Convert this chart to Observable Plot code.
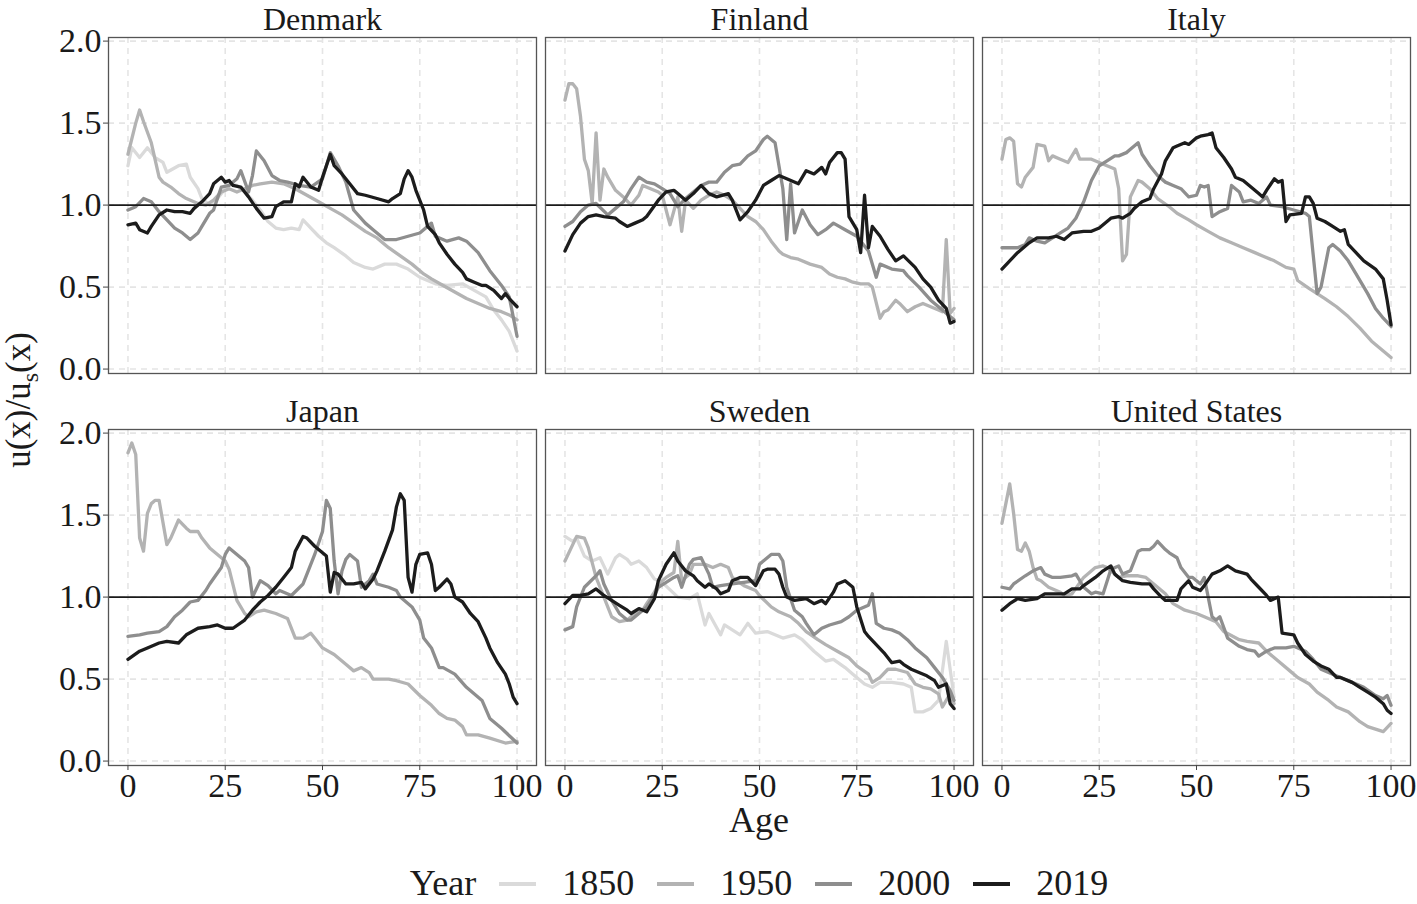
<!DOCTYPE html>
<html><head><meta charset="utf-8">
<script src="https://cdn.jsdelivr.net/npm/d3@7"></script>
<script src="https://cdn.jsdelivr.net/npm/@observablehq/plot@0.6"></script>
<style>
body{margin:0;background:#fff;}
#wrap{position:relative;width:1417px;height:904px;font-family:"Liberation Serif","Times New Roman",serif;color:#1a1a1a;background:#fff;overflow:hidden;}
#ylab{position:absolute;left:22px;top:400px;transform:translate(-50%,-50%) rotate(-90deg);font-size:35px;white-space:nowrap;line-height:1.1;}
#xlab{position:absolute;left:759px;top:821px;transform:translate(-50%,-50%);font-size:36px;line-height:1.1;}
#legend{position:absolute;left:107px;right:6px;top:864px;height:40px;display:flex;justify-content:center;align-items:center;font-size:36px;line-height:1.1;}
.sw{display:inline-block;width:37px;height:4px;margin:0 26px 0 23px;}
</style></head>
<body><div id="wrap"><div id="chart"></div><div id="ylab">u(x)/u<sub style="font-size:24px">s</sub>(x)</div><div id="xlab">Age</div><div id="legend"></div></div>
<script>
const countries = ["Denmark","Finland","Italy","Japan","Sweden","United States"];
const years = ["1850","1950","2000","2019"];
const yearColors = ["#dadada","#b3b3b3","#8e8e8e","#1c1c1c"];
const ageTicks = [0,25,50,75,100];
const ratioTicks = [0,0.5,1,1.5,2];

const DK_1850=[[0,1.24],[1,1.35],[3,1.29],[5,1.35],[7,1.29],[9,1.26],[10,1.20],[13,1.24],[15,1.25],[16,1.17],[18,1.10],[19,1.04],[21,1.00],[23,1.04],[25,1.10],[26,1.13],[28,1.12],[30,1.08],[32,1.03],[34,0.97],[36,0.90],[38,0.86],[40,0.85],[42,0.86],[44,0.85],[45,0.91],[47,0.86],[49,0.81],[51,0.77],[53,0.74],[56,0.69],[58,0.65],[61,0.62],[63,0.61],[66,0.64],[69,0.64],[72,0.61],[75,0.56],[79,0.52],[82,0.51],[86,0.52],[89,0.48],[92,0.44],[94,0.36],[96,0.30],[98,0.23],[100,0.11]];
const DK_1950=[[0,1.31],[2,1.50],[3,1.58],[4,1.51],[6,1.38],[8,1.17],[9,1.14],[11,1.11],[13,1.07],[15,1.04],[18,1.01],[20,1.00],[22,1.03],[24,1.08],[26,1.10],[28,1.08],[30,1.10],[32,1.12],[34,1.13],[37,1.14],[40,1.13],[43,1.10],[46,1.06],[49,1.02],[52,0.98],[55,0.94],[58,0.89],[61,0.84],[64,0.80],[67,0.74],[70,0.69],[73,0.64],[76,0.58],[78,0.55],[81,0.51],[84,0.47],[87,0.43],[90,0.40],[93,0.37],[96,0.35],[98,0.33],[100,0.30]];
const DK_2000=[[0,0.97],[2,0.99],[4,1.04],[6,1.02],[8,0.96],[10,0.91],[12,0.86],[14,0.83],[16,0.79],[18,0.83],[19,0.87],[21,0.95],[22,0.97],[24,1.11],[26,1.12],[28,1.16],[29,1.21],[31,1.08],[32,1.18],[33,1.33],[35,1.27],[37,1.18],[39,1.15],[41,1.14],[44,1.12],[47,1.11],[50,1.16],[52,1.32],[54,1.24],[56,1.14],[58,0.97],[61,0.89],[63,0.85],[66,0.79],[69,0.79],[72,0.81],[75,0.83],[78,0.89],[79,0.81],[82,0.78],[85,0.80],[87,0.78],[90,0.71],[93,0.60],[96,0.51],[98,0.44],[100,0.20]];
const DK_2019=[[0,0.88],[2,0.89],[3,0.85],[5,0.83],[6,0.87],[8,0.94],[10,0.97],[12,0.96],[14,0.96],[16,0.95],[17,0.98],[19,1.02],[21,1.07],[22,1.13],[24,1.17],[25,1.14],[26,1.15],[27,1.12],[29,1.11],[31,1.05],[33,0.98],[35,0.92],[37,0.93],[38,0.99],[40,1.02],[42,1.02],[43,1.13],[44,1.11],[45,1.17],[47,1.11],[49,1.09],[50,1.17],[52,1.31],[53,1.24],[55,1.19],[57,1.13],[59,1.07],[61,1.06],[64,1.04],[67,1.02],[68,1.04],[70,1.07],[71,1.16],[72,1.21],[73,1.17],[74,1.09],[76,0.97],[77,0.87],[79,0.82],[80,0.77],[82,0.70],[84,0.64],[86,0.59],[87,0.55],[89,0.53],[91,0.51],[92,0.51],[94,0.48],[96,0.43],[97,0.46],[98,0.43],[100,0.38]];

const FI_1950=[[0,1.64],[1,1.74],[2,1.74],[3,1.71],[4,1.54],[5,1.28],[6,1.21],[7,1.01],[8,1.44],[9,1.03],[10,1.22],[11,1.17],[13,1.09],[15,1.05],[17,1.00],[19,1.06],[20,1.12],[22,1.10],[24,1.08],[25,1.06],[27,0.88],[29,1.05],[30,0.84],[31,1.03],[33,0.98],[35,1.03],[37,1.06],[39,1.08],[41,1.06],[43,1.03],[45,0.98],[47,0.93],[49,0.90],[51,0.85],[53,0.78],[55,0.72],[56,0.70],[58,0.68],[60,0.67],[63,0.64],[66,0.62],[68,0.58],[70,0.56],[72,0.55],[74,0.53],[76,0.52],[78,0.52],[79,0.50],[81,0.31],[82,0.35],[83,0.36],[85,0.42],[86,0.40],[88,0.35],[90,0.38],[92,0.40],[94,0.38],[96,0.36],[97,0.35],[98,0.79],[99,0.34],[100,0.37]];
const FI_2000=[[0,0.87],[2,0.90],[4,0.96],[6,1.00],[8,1.01],[11,0.94],[13,0.98],[15,1.02],[17,1.10],[19,1.17],[21,1.14],[23,1.13],[25,1.10],[27,1.07],[29,0.99],[31,1.04],[33,1.08],[35,1.12],[37,1.14],[39,1.14],[41,1.20],[43,1.24],[45,1.25],[47,1.30],[49,1.33],[51,1.40],[52,1.42],[54,1.38],[56,1.10],[57,0.79],[58,1.13],[59,0.83],[61,0.97],[63,0.88],[65,0.82],[67,0.85],[69,0.89],[72,0.85],[75,0.81],[78,0.72],[80,0.56],[81,0.64],[84,0.61],[87,0.60],[88,0.57],[91,0.50],[94,0.42],[97,0.36],[100,0.30]];
const FI_2019=[[0,0.72],[2,0.82],[4,0.89],[6,0.93],[8,0.94],[10,0.93],[13,0.92],[14,0.90],[16,0.87],[18,0.89],[20,0.91],[21,0.93],[24,1.03],[26,1.08],[28,1.09],[29,1.07],[31,1.03],[33,1.07],[35,1.12],[37,1.07],[39,1.05],[42,1.07],[43,1.03],[45,0.91],[47,0.96],[49,1.03],[51,1.12],[53,1.15],[55,1.18],[57,1.16],[60,1.13],[62,1.21],[64,1.19],[66,1.23],[67,1.19],[68,1.26],[70,1.32],[71,1.32],[72,1.28],[73,0.93],[75,0.85],[76,0.71],[77,1.06],[78,0.74],[79,0.87],[81,0.81],[83,0.73],[85,0.66],[87,0.69],[90,0.62],[92,0.55],[94,0.50],[96,0.42],[98,0.37],[99,0.28],[100,0.29]];

const IT_1950=[[0,1.28],[1,1.40],[2,1.41],[3,1.39],[4,1.13],[5,1.11],[6,1.17],[8,1.23],[9,1.37],[11,1.36],[12,1.27],[13,1.30],[15,1.28],[17,1.26],[19,1.34],[20,1.28],[23,1.28],[25,1.26],[27,1.24],[29,1.22],[30,1.10],[31,0.66],[32,0.70],[33,1.05],[35,1.15],[36,1.14],[38,1.10],[40,1.04],[43,0.99],[45,0.95],[48,0.91],[50,0.88],[53,0.84],[56,0.80],[59,0.77],[62,0.74],[65,0.71],[67,0.69],[70,0.66],[73,0.62],[75,0.61],[76,0.54],[79,0.49],[81,0.46],[83,0.43],[86,0.38],[89,0.32],[92,0.25],[95,0.17],[98,0.11],[100,0.07]];
const IT_2000=[[0,0.74],[2,0.74],[4,0.74],[6,0.76],[7,0.80],[9,0.78],[11,0.77],[13,0.80],[15,0.83],[17,0.86],[19,0.92],[21,1.02],[23,1.15],[25,1.24],[27,1.27],[29,1.30],[30,1.30],[32,1.32],[33,1.34],[35,1.38],[36,1.31],[38,1.24],[40,1.18],[42,1.14],[44,1.12],[46,1.10],[48,1.05],[50,1.06],[51,1.12],[52,1.11],[53,1.12],[54,0.93],[56,0.96],[58,0.98],[59,1.12],[61,1.08],[62,1.02],[64,1.03],[66,1.01],[68,1.05],[69,1.00],[72,0.99],[75,0.97],[78,0.95],[79,0.93],[81,0.46],[82,0.50],[84,0.74],[85,0.76],[87,0.72],[89,0.66],[91,0.58],[94,0.46],[96,0.37],[98,0.31],[100,0.26]];
const IT_2019=[[0,0.61],[2,0.66],[4,0.71],[7,0.77],[9,0.80],[12,0.80],[14,0.81],[16,0.79],[18,0.83],[21,0.84],[23,0.84],[25,0.86],[27,0.90],[28,0.92],[30,0.93],[31,0.92],[33,0.95],[34,0.98],[36,1.02],[38,1.04],[39,1.10],[41,1.19],[42,1.27],[44,1.35],[45,1.36],[47,1.38],[48,1.37],[50,1.41],[51,1.42],[53,1.43],[54,1.44],[55,1.35],[57,1.29],[59,1.22],[60,1.17],[62,1.15],[64,1.11],[66,1.07],[67,1.05],[68,1.09],[70,1.16],[71,1.14],[72,1.15],[73,0.90],[74,0.94],[77,0.95],[78,1.05],[79,1.05],[80,1.01],[81,0.92],[83,0.90],[85,0.87],[87,0.84],[88,0.85],[89,0.76],[91,0.71],[93,0.66],[96,0.61],[98,0.55],[99,0.42],[100,0.27]];

const JP_1950=[[0,1.88],[1,1.94],[2,1.87],[3,1.36],[4,1.28],[5,1.51],[6,1.57],[7,1.59],[8,1.59],[10,1.32],[11,1.36],[13,1.47],[15,1.42],[16,1.40],[18,1.40],[19,1.36],[21,1.30],[23,1.26],[25,1.22],[26,1.17],[28,0.98],[30,0.90],[31,0.88],[33,0.91],[35,0.92],[38,0.90],[41,0.87],[43,0.75],[45,0.75],[47,0.78],[48,0.75],[50,0.69],[53,0.65],[56,0.59],[58,0.55],[60,0.57],[62,0.54],[63,0.50],[67,0.50],[69,0.49],[72,0.47],[75,0.40],[78,0.34],[80,0.29],[82,0.26],[84,0.25],[86,0.21],[87,0.16],[90,0.16],[93,0.14],[97,0.11],[100,0.12]];
const JP_2000=[[0,0.76],[3,0.77],[5,0.78],[8,0.79],[10,0.82],[12,0.88],[14,0.92],[16,0.97],[18,0.98],[20,1.04],[21,1.08],[24,1.18],[25,1.26],[26,1.30],[27,1.28],[30,1.22],[31,1.18],[32,1.00],[34,1.10],[36,1.07],[38,1.02],[39,1.04],[42,1.01],[45,1.08],[46,1.14],[48,1.26],[50,1.40],[51,1.59],[52,1.54],[53,1.22],[54,1.02],[55,1.16],[56,1.23],[57,1.26],[59,1.22],[60,1.06],[62,1.10],[63,1.14],[64,1.08],[67,1.06],[69,1.04],[70,1.00],[73,0.94],[75,0.86],[76,0.75],[78,0.69],[80,0.57],[81,0.57],[84,0.53],[87,0.45],[91,0.37],[93,0.26],[96,0.20],[100,0.11]];
const JP_2019=[[0,0.62],[3,0.67],[5,0.69],[8,0.72],[10,0.73],[13,0.72],[15,0.77],[18,0.81],[21,0.82],[23,0.83],[25,0.81],[27,0.81],[30,0.86],[32,0.92],[34,0.97],[36,1.01],[38,1.06],[40,1.12],[42,1.18],[43,1.28],[45,1.37],[46,1.36],[48,1.31],[50,1.27],[51,1.25],[52,1.03],[53,1.15],[54,1.14],[56,1.08],[58,1.08],[60,1.09],[61,1.05],[63,1.11],[64,1.16],[66,1.28],[68,1.41],[69,1.55],[70,1.63],[71,1.59],[72,1.12],[73,1.03],[74,1.20],[75,1.26],[77,1.27],[78,1.20],[79,1.04],[80,1.06],[82,1.11],[83,1.08],[84,1.00],[86,0.97],[88,0.90],[90,0.85],[92,0.75],[93,0.69],[95,0.60],[97,0.53],[98,0.47],[99,0.39],[100,0.35]];

const SE_1850=[[0,1.37],[2,1.34],[3,1.36],[5,1.25],[7,1.22],[9,1.24],[11,1.14],[13,1.24],[14,1.26],[16,1.23],[17,1.20],[19,1.22],[21,1.18],[23,1.11],[25,1.09],[29,1.00],[32,0.99],[34,1.02],[36,0.83],[37,0.90],[40,0.77],[41,0.83],[43,0.80],[45,0.77],[47,0.84],[49,0.78],[52,0.79],[54,0.77],[56,0.75],[59,0.77],[61,0.74],[64,0.67],[67,0.61],[69,0.62],[72,0.57],[74,0.53],[77,0.47],[79,0.45],[81,0.48],[84,0.48],[87,0.47],[89,0.45],[90,0.30],[92,0.30],[94,0.32],[96,0.37],[98,0.73],[100,0.39]];
const SE_1950=[[0,1.22],[2,1.32],[3,1.37],[5,1.36],[6,1.30],[8,1.12],[9,1.06],[11,0.94],[12,0.88],[14,0.85],[16,0.86],[18,0.90],[20,0.92],[21,0.96],[23,1.03],[24,1.08],[26,1.12],[28,1.15],[29,1.34],[30,1.10],[32,1.14],[33,1.20],[36,1.20],[38,1.18],[40,1.20],[42,1.18],[43,1.12],[46,1.07],[49,1.04],[50,1.01],[53,0.94],[55,0.91],[58,0.88],[60,0.84],[62,0.79],[65,0.74],[67,0.71],[70,0.67],[73,0.63],[75,0.58],[78,0.53],[79,0.48],[81,0.51],[83,0.56],[85,0.56],[88,0.54],[90,0.47],[92,0.45],[94,0.44],[96,0.41],[97,0.33],[99,0.41],[100,0.35]];
const SE_2000=[[0,0.80],[2,0.82],[3,0.94],[5,1.06],[8,1.13],[9,1.16],[10,1.08],[12,0.98],[14,0.90],[16,0.86],[17,0.86],[19,0.90],[21,0.94],[23,1.01],[24,1.06],[26,1.09],[28,1.12],[29,1.13],[30,1.06],[32,1.20],[33,1.23],[35,1.24],[37,1.14],[38,1.06],[40,1.07],[43,1.08],[46,1.09],[49,1.10],[50,1.20],[53,1.26],[55,1.26],[56,1.22],[57,1.06],[59,0.92],[61,0.88],[62,0.84],[64,0.77],[66,0.81],[68,0.83],[71,0.85],[73,0.88],[75,0.92],[78,0.95],[79,1.02],[80,0.84],[82,0.81],[84,0.80],[86,0.78],[88,0.74],[90,0.69],[93,0.63],[95,0.57],[97,0.51],[99,0.43],[100,0.37]];
const SE_2019=[[0,0.96],[2,1.01],[4,1.01],[6,1.02],[8,1.05],[10,1.01],[12,0.98],[14,0.95],[16,0.92],[17,0.90],[19,0.93],[21,0.91],[23,0.99],[24,1.10],[26,1.20],[28,1.27],[29,1.22],[31,1.16],[33,1.13],[34,1.10],[36,1.06],[37,1.08],[39,1.05],[40,1.02],[42,1.04],[43,1.10],[45,1.12],[47,1.12],[49,1.07],[51,1.16],[52,1.17],[54,1.17],[55,1.14],[56,1.06],[57,1.00],[59,0.98],[62,0.99],[64,0.96],[66,0.98],[67,0.96],[69,1.03],[70,1.08],[72,1.10],[74,1.06],[75,0.94],[77,0.79],[78,0.76],[80,0.71],[82,0.66],[84,0.60],[86,0.61],[87,0.59],[89,0.56],[91,0.54],[93,0.52],[95,0.49],[96,0.45],[98,0.47],[99,0.35],[100,0.32]];

const US_1950=[[0,1.45],[1,1.57],[2,1.69],[3,1.51],[4,1.29],[5,1.28],[6,1.33],[7,1.28],[8,1.18],[9,1.11],[10,1.10],[12,1.06],[15,1.03],[16,1.01],[18,1.02],[21,1.12],[24,1.18],[26,1.19],[27,1.18],[30,1.12],[32,1.13],[35,1.13],[37,1.12],[39,1.08],[42,1.02],[44,0.96],[47,0.92],[50,0.90],[52,0.88],[55,0.85],[57,0.79],[61,0.74],[63,0.73],[66,0.72],[68,0.67],[71,0.61],[74,0.55],[76,0.51],[79,0.47],[81,0.42],[84,0.37],[86,0.33],[89,0.30],[92,0.24],[94,0.21],[98,0.18],[100,0.23]];
const US_2000=[[0,1.06],[2,1.05],[3,1.08],[6,1.13],[8,1.16],[10,1.18],[11,1.14],[13,1.12],[15,1.12],[18,1.13],[19,1.14],[21,1.06],[23,1.02],[24,1.03],[26,1.02],[28,1.17],[30,1.19],[31,1.14],[33,1.16],[35,1.28],[36,1.29],[38,1.29],[39,1.31],[40,1.34],[42,1.29],[43,1.27],[45,1.24],[46,1.18],[48,1.12],[49,1.12],[51,1.08],[52,1.12],[54,0.88],[55,0.86],[56,0.88],[58,0.75],[61,0.70],[63,0.68],[65,0.67],[66,0.64],[68,0.67],[70,0.69],[73,0.69],[75,0.70],[78,0.67],[80,0.62],[82,0.56],[85,0.53],[87,0.51],[90,0.48],[93,0.45],[96,0.40],[98,0.38],[99,0.40],[100,0.34]];
const US_2019=[[0,0.92],[2,0.96],[4,0.99],[6,0.98],[9,0.99],[11,1.02],[14,1.02],[16,1.02],[18,1.05],[20,1.05],[21,1.07],[24,1.12],[26,1.16],[28,1.19],[29,1.14],[31,1.10],[33,1.09],[36,1.08],[38,1.08],[39,1.05],[41,1.00],[42,0.98],[45,0.98],[46,1.05],[48,1.10],[49,1.06],[51,1.04],[52,1.07],[54,1.14],[56,1.16],[58,1.19],[60,1.16],[63,1.14],[64,1.11],[66,1.06],[68,1.01],[69,0.98],[71,1.00],[72,0.78],[75,0.77],[76,0.72],[78,0.65],[80,0.61],[82,0.58],[84,0.56],[86,0.51],[87,0.51],[90,0.48],[92,0.45],[94,0.42],[96,0.39],[98,0.35],[99,0.31],[100,0.29]];

const seriesList = [
  ["Denmark","1850",DK_1850],["Denmark","1950",DK_1950],["Denmark","2000",DK_2000],["Denmark","2019",DK_2019],
  ["Finland","1950",FI_1950],["Finland","2000",FI_2000],["Finland","2019",FI_2019],
  ["Italy","1950",IT_1950],["Italy","2000",IT_2000],["Italy","2019",IT_2019],
  ["Japan","1950",JP_1950],["Japan","2000",JP_2000],["Japan","2019",JP_2019],
  ["Sweden","1850",SE_1850],["Sweden","1950",SE_1950],["Sweden","2000",SE_2000],["Sweden","2019",SE_2019],
  ["United States","1950",US_1950],["United States","2000",US_2000],["United States","2019",US_2019]
];

const rows = [];
for (const yr of years) {
  for (const [c, y, pts] of seriesList) {
    if (y !== yr) continue;
    const i = countries.indexOf(c);
    for (const [age, v] of pts) rows.push({country: c, year: y, age, v, col: i % 3, row: Math.floor(i / 3)});
  }
}
const titles = countries.map((name, i) => ({name, col: i % 3, row: Math.floor(i / 3)}));

const chart = Plot.plot({
  width: 1417, height: 845,
  marginLeft: 107, marginRight: 6, marginTop: 37, marginBottom: 80,
  style: {fontFamily: '"Liberation Serif","Times New Roman",serif', fontSize: "34px", color: "#1a1a1a", background: "#fff", overflow: "visible"},
  fx: {domain: [0,1,2], axis: null, paddingInner: 0.0205, paddingOuter: 0},
  fy: {domain: [0,1], axis: null, paddingInner: 0.1429, paddingOuter: 0},
  x: {domain: [-5, 105]},
  y: {domain: [-0.027, 2.022]},
  color: {domain: years, range: yearColors},
  marks: [
    Plot.gridX(ageTicks, {stroke: "#e5e5e5", strokeOpacity: 1, strokeWidth: 1.6, strokeDasharray: "6,5"}),
    Plot.gridY(ratioTicks, {stroke: "#e5e5e5", strokeOpacity: 1, strokeWidth: 1.6, strokeDasharray: "6,5"}),
    Plot.line(rows, {x: "age", y: "v", z: "year", stroke: "year", fx: "col", fy: "row", strokeWidth: 3.3}),
    Plot.ruleY([1], {stroke: "#1a1a1a", strokeWidth: 1.7}),
    Plot.frame({stroke: "#555", strokeWidth: 1.3}),
    Plot.axisY(ratioTicks, {tickFormat: d3.format(".1f"), tickSize: 5, tickPadding: 2, fontSize: 34, stroke: "#444", label: null}),
    Plot.axisX(ageTicks, {tickSize: 5, tickPadding: 2, fontSize: 34, stroke: "#444", label: null}),
    Plot.text(titles, {fx: "col", fy: "row", text: "name", frameAnchor: "top", lineAnchor: "middle", dy: -18, fontSize: 32, fill: "#1a1a1a"})
  ]
});
document.getElementById("chart").appendChild(chart);

const legend = document.getElementById("legend");
const lab = document.createElement("span");
lab.textContent = "Year";
legend.appendChild(lab);
years.forEach((y, i) => {
  const sw = document.createElement("span");
  sw.className = "sw";
  sw.style.background = yearColors[i];
  legend.appendChild(sw);
  const t = document.createElement("span");
  t.textContent = y;
  legend.appendChild(t);
});
</script>
</body></html>
